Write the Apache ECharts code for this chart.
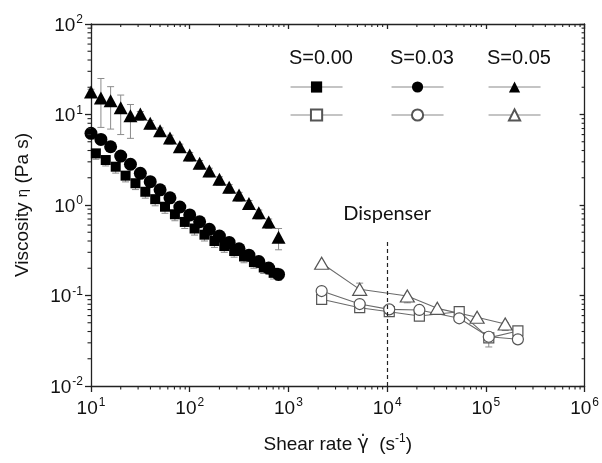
<!DOCTYPE html>
<html>
<head>
<meta charset="UTF-8">
<title>viscosity</title>
<script src="https://cdn.jsdelivr.net/npm/echarts@6/dist/echarts.min.js"></script>
<style>
  html, body { margin: 0; padding: 0; background: #fff; }
  #chart { width: 602px; height: 463px; }
</style>
</head>
<body>
<div id="chart"></div>
<script>
// low shear (rheometer), filled symbols
var rateLow = [10, 12.6, 15.8, 20, 25.1, 31.6, 39.8, 50.1, 63.1, 79.4, 100, 126, 158, 200, 251, 316, 398, 501, 631, 794];
var rateSq = [11.2, 14.1, 17.8, 22.4, 28.2, 35.5, 44.7, 56.2, 70.8, 89.1, 112, 141, 178, 224, 282, 355, 447, 562, 708];

var visS000 = [3.72, 3.14, 2.65, 2.11, 1.74, 1.40, 1.16, 0.957, 0.79, 0.65, 0.55, 0.47, 0.40, 0.352, 0.31, 0.27, 0.234, 0.204, 0.178];
var lowS000 = [3.2, 2.7, 2.25, 1.8, 1.48, 1.19, 0.98, 0.81, 0.67, 0.55, 0.465, 0.4, 0.34, 0.3, 0.265, 0.23, 0.2, 0.175, 0.152];
var highS000 = [4.1, 3.45, 2.9, 2.32, 1.9, 1.54, 1.27, 1.05, 0.87, 0.72, 0.6, 0.52, 0.44, 0.39, 0.34, 0.3, 0.26, 0.225, 0.196];

var visS003 = [6.2, 5.3, 4.4, 3.47, 2.82, 2.24, 1.81, 1.47, 1.2, 0.95, 0.776, 0.653, 0.538, 0.454, 0.386, 0.328, 0.279, 0.237, 0.201, 0.171];
var lowS003 = [5.6, 4.7, 3.9, 3.05, 2.45, 1.95, 1.58, 1.28, 1.04, 0.83, 0.67, 0.56, 0.46, 0.39, 0.33, 0.28, 0.24, 0.205, 0.172, 0.148];
var highS003 = [6.9, 5.9, 4.9, 3.9, 3.15, 2.5, 2.0, 1.64, 1.34, 1.06, 0.87, 0.73, 0.6, 0.51, 0.43, 0.37, 0.31, 0.265, 0.225, 0.19];

var visS005 = [17.7, 15.2, 14.2, 11.9, 9.7, 10.1, 8.0, 6.6, 5.5, 4.4, 3.57, 2.9, 2.38, 1.92, 1.57, 1.29, 1.04, 0.82, 0.65, 0.44];
var lowS005 = [15.5, 7.2, 6.9, 6.0, 5.45, 8.6, 6.9, 5.7, 4.7, 3.8, 3.05, 2.5, 2.05, 1.65, 1.35, 1.1, 0.9, 0.7, 0.55, 0.32];
var highS005 = [19, 25, 20.3, 16.4, 12.9, 10.8, 8.6, 7.1, 5.9, 4.7, 3.8, 3.1, 2.55, 2.05, 1.68, 1.38, 1.12, 0.88, 0.7, 0.55];

// high shear (capillary), open symbols
var rateHigh = [2170, 5270, 10500, 21200, 53700, 107000, 211000];
var openS000 = [0.0908, 0.0733, 0.0662, 0.0593, 0.0662, 0.034, 0.0406];
var openS003 = [0.112, 0.0805, 0.0703, 0.0692, 0.056, 0.035, 0.0328];
var rateHighTri = [2170, 5270, 16000, 32200, 81500, 157000];
var openS005 = [0.227, 0.117, 0.0986, 0.0721, 0.0574, 0.0484];
// a few visible error bars on the open data: [rate, low, high]
var openErr = [[5270, 0.11, 0.137], [16000, 0.083, 0.1], [107000, 0.027, 0.036], [157000, 0.041, 0.05]];

var legendTitles = ['S=0.00', 'S=0.03', 'S=0.05'];
var minorSteps = [2, 3, 4, 5, 6, 7, 8, 9];
var xDecades = [10, 100, 1000, 10000, 100000];
var yDecades = [0.01, 0.1, 1, 10];

var FONT = 'Liberation Sans';
var xMinor = [], yMinor = [];
xDecades.forEach(function (d) { minorSteps.forEach(function (m) { xMinor.push([d * m, 1]); }); });
yDecades.forEach(function (d) { minorSteps.forEach(function (m) { yMinor.push([100, d * m]); }); });

function zip(xs, ys) { return xs.map(function (x, i) { return [x, ys[i]]; }); }
function zip3(xs, lo, hi) { return xs.map(function (x, i) { return [x, lo[i], hi[i]]; }); }

function powLabel(v) {
  var e = Math.round(Math.log(v) / Math.LN10);
  return '{b|10}{s|' + e + '}';
}
var powRich = {
  b: { fontSize: 19, fontFamily: FONT, color: '#111', verticalAlign: 'bottom', lineHeight: 22 },
  s: { fontSize: 12, fontFamily: FONT, color: '#111', verticalAlign: 'bottom', lineHeight: 22, padding: [0, 0, 9, 1] }
};

function errRender(params, api) {
  var x = api.value(0);
  var a = api.coord([x, api.value(1)]);
  var b = api.coord([x, api.value(2)]);
  var w = 3.5;
  var st = { stroke: '#8c8c8c', lineWidth: 1 };
  return {
    type: 'group',
    children: [
      { type: 'line', shape: { x1: a[0], y1: a[1], x2: b[0], y2: b[1] }, style: st },
      { type: 'line', shape: { x1: a[0] - w, y1: a[1], x2: a[0] + w, y2: a[1] }, style: st },
      { type: 'line', shape: { x1: b[0] - w, y1: b[1], x2: b[0] + w, y2: b[1] }, style: st }
    ]
  };
}

function errSeries(data) {
  return {
    type: 'custom', renderItem: errRender, data: data, z: 1, silent: true,
    encode: { x: 0, y: [1, 2] }, clip: false
  };
}

var myChart = echarts.init(document.getElementById('chart'), null, { renderer: 'canvas' });

var axisLineStyle = { color: '#222', width: 1.3 };

var option = {
  backgroundColor: '#fff',
  animation: false,
  grid: { left: 91, right: 15, top: 24, bottom: 77 },
  xAxis: [{
    type: 'log', logBase: 10, min: 10, max: 1e6, position: 'bottom',
    axisLine: { lineStyle: axisLineStyle },
    axisTick: { show: true, length: 6, lineStyle: axisLineStyle },
    axisLabel: { formatter: powLabel, rich: powRich, margin: 10 },
    splitLine: { show: false },
    name: '{n|Shear rate }{g|γ̇}{n|  (s}{sp|-1}{n|)}',
    nameLocation: 'middle', nameGap: 44,
    nameTextStyle: {
      rich: {
        n: { fontSize: 19, fontFamily: FONT, color: '#111', verticalAlign: 'bottom', lineHeight: 24 },
        g: { fontSize: 19, fontFamily: 'DejaVu Sans', color: '#111', verticalAlign: 'bottom', lineHeight: 24 },
        sp: { fontSize: 12, fontFamily: FONT, color: '#111', verticalAlign: 'bottom', lineHeight: 24, padding: [0, 0, 9, 0] }
      }
    }
  }, {
    type: 'log', logBase: 10, min: 10, max: 1e6, position: 'top',
    axisLine: { lineStyle: axisLineStyle },
    axisTick: { show: true, inside: true, length: 5, lineStyle: axisLineStyle },
    axisLabel: { show: false },
    splitLine: { show: false }
  }],
  yAxis: [{
    type: 'log', logBase: 10, min: 0.01, max: 100, position: 'left',
    axisLine: { lineStyle: axisLineStyle },
    axisTick: { show: true, length: 6, lineStyle: axisLineStyle },
    axisLabel: { formatter: powLabel, rich: powRich, margin: 8 },
    splitLine: { show: false },
    name: '{n|Viscosity }{e|η}{n| (Pa s)}',
    nameLocation: 'middle', nameGap: 59, nameRotate: 90,
    nameTextStyle: {
      rich: {
        n: { fontSize: 19, fontFamily: FONT, color: '#111' },
        e: { fontSize: 15, fontFamily: FONT, color: '#111' }
      }
    }
  }, {
    type: 'log', logBase: 10, min: 0.01, max: 100, position: 'right',
    axisLine: { lineStyle: axisLineStyle },
    axisTick: { show: true, inside: true, length: 5, lineStyle: axisLineStyle },
    axisLabel: { show: false },
    splitLine: { show: false }
  }],
  legend: [],
  graphic: [],
  series: [
    // minor ticks, log spaced, drawn through the axes
    {
      type: 'custom', data: xMinor, silent: true, clip: false, z: 5,
      encode: { x: 0, y: 1 },
      renderItem: function (params, api) {
        var v = api.value(0);
        var b = api.coord([v, 0.01]);
        var t = api.coord([v, 100]);
        var st = { stroke: '#222', lineWidth: 1.1 };
        return { type: 'group', children: [
          { type: 'line', shape: { x1: b[0], y1: b[1], x2: b[0], y2: b[1] + 3.5 }, style: st },
          { type: 'line', shape: { x1: t[0], y1: t[1], x2: t[0], y2: t[1] + 3 }, style: st }
        ] };
      }
    },
    {
      type: 'custom', data: yMinor, silent: true, clip: false, z: 5,
      encode: { x: 0, y: 1 },
      renderItem: function (params, api) {
        var v = api.value(1);
        var l = api.coord([10, v]);
        var r = api.coord([1e6, v]);
        var st = { stroke: '#222', lineWidth: 1.1 };
        return { type: 'group', children: [
          { type: 'line', shape: { x1: l[0], y1: l[1], x2: l[0] - 3.5, y2: l[1] }, style: st },
          { type: 'line', shape: { x1: r[0], y1: r[1], x2: r[0] - 3, y2: r[1] }, style: st }
        ] };
      }
    },
    errSeries(zip3(rateSq, lowS000, highS000)),
    errSeries(zip3(rateLow, lowS003, highS003)),
    errSeries(zip3(rateLow, lowS005, highS005)),
    errSeries(openErr),
    {
      name: 'S=0.00 filled', type: 'line', data: zip(rateSq, visS000), z: 3,
      symbol: 'rect', symbolSize: 10, itemStyle: { color: '#000' },
      lineStyle: { opacity: 0 }
    },
    {
      name: 'S=0.03 filled', type: 'line', data: zip(rateLow, visS003), z: 3,
      symbol: 'circle', symbolSize: 13, itemStyle: { color: '#000' },
      lineStyle: { opacity: 0 }
    },
    {
      name: 'S=0.05 filled', type: 'line', data: zip(rateLow, visS005), z: 3,
      symbol: 'triangle', symbolSize: [14, 13], itemStyle: { color: '#000' },
      lineStyle: { opacity: 0 }
    },
    {
      name: 'S=0.00 open', type: 'line', data: zip(rateHigh, openS000), z: 3,
      symbol: 'rect', symbolSize: 10,
      itemStyle: { color: '#fff', borderColor: '#555', borderWidth: 1.2 },
      lineStyle: { color: '#6a6a6a', width: 1.1 }
    },
    {
      name: 'S=0.03 open', type: 'line', data: zip(rateHigh, openS003), z: 3,
      symbol: 'circle', symbolSize: 11,
      itemStyle: { color: '#fff', borderColor: '#555', borderWidth: 1.2 },
      lineStyle: { color: '#6a6a6a', width: 1.1 }
    },
    {
      name: 'S=0.05 open', type: 'line', data: zip(rateHighTri, openS005), z: 3,
      symbol: 'triangle', symbolSize: [14, 12],
      itemStyle: { color: '#fff', borderColor: '#555', borderWidth: 1.2 },
      lineStyle: { color: '#6a6a6a', width: 1.1 },
      markLine: {
        silent: true, symbol: 'none', animation: false,
        lineStyle: { type: [4, 3], color: '#222', width: 1.2 },
        label: {
          show: true, position: 'end', formatter: 'Dispenser', distance: 16,
          fontFamily: 'Lato', fontSize: 20, color: '#111'
        },
        data: [[{ coord: [1e4, 0.01] }, { coord: [1e4, 0.42] }]]
      }
    }
  ]
};

// legend: 2 rows x 3 columns of icons, titles above
var legendCols = [290, 391, 488];
var legendRows = [80, 108];
var legendNames = [
  ['S=0.00 filled', 'S=0.03 filled', 'S=0.05 filled'],
  ['S=0.00 open', 'S=0.03 open', 'S=0.05 open']
];
legendRows.forEach(function (top, r) {
  legendCols.forEach(function (left, c) {
    option.legend.push({
      data: [legendNames[r][c]], left: left, top: top, padding: 0,
      itemWidth: 52, itemHeight: 14, itemGap: 0, selectedMode: false,
      formatter: function () { return ''; },
      lineStyle: { color: '#8a8a8a', width: 1.1, opacity: 1 }
    });
  });
});
legendTitles.forEach(function (t, i) {
  option.graphic.push({
    type: 'text', left: legendCols[i] - 1, top: 48,
    style: { text: t, fontSize: 20, fontFamily: FONT, fill: '#111' }
  });
});

myChart.setOption(option);
</script>
</body>
</html>
